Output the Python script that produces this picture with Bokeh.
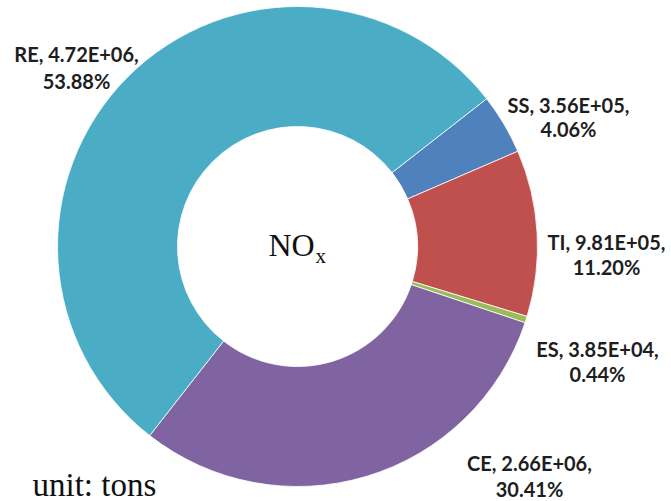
import numpy as np
from bokeh.plotting import figure
from bokeh.models import Range1d, ColumnDataSource
from bokeh.core.properties import value
from bokeh.embed import file_html
from bokeh.resources import INLINE

# NOx emissions by source category (tons), clockwise order
categories = ["SS", "TI", "ES", "CE", "RE"]
emissions = [3.56e5, 9.81e5, 3.85e4, 2.66e6, 4.72e6]
shares = [4.06, 11.20, 0.44, 30.41, 53.88]
colors = ["#4F81BD", "#C0504D", "#9BBB59", "#8064A2", "#4BACC6"]

W, H = 671, 501

# donut geometry in pixel-like data units (y measured upward)
cx, cy = 297, H - 246
r_outer, r_inner = 240, 120
first_slice_deg = 52  # clockwise from 12 o'clock

# label anchors: (center x, top line y, bottom line y) measured from the top
label_pos = {
    "SS": (568, 104, 128),
    "TI": (606, 241, 266),
    "ES": (597, 348, 373),
    "CE": (529, 462, 488),
    "RE": (76, 53, 80),
}

frac = np.array(shares) / np.sum(shares)
cum = np.concatenate([[0.0], np.cumsum(frac)]) * 360.0 + first_slice_deg
start = 90.0 - cum[:-1]
end = 90.0 - cum[1:]

wedges = ColumnDataSource(dict(
    cat=categories, val=emissions, color=colors,
    start=np.radians(start), end=np.radians(end),
))

p = figure(width=W, height=H, output_backend="svg", toolbar_location=None,
           x_range=Range1d(0, W), y_range=Range1d(0, H),
           min_border=0, outline_line_color=None, background_fill_color="white")
p.axis.visible = False
p.grid.visible = False

p.annular_wedge(x=cx, y=cy, inner_radius=r_inner, outer_radius=r_outer,
                start_angle="start", end_angle="end", direction="clock",
                fill_color="color", line_color="white", line_width=0.8,
                source=wedges)

line1, line2, lx, ly1, ly2 = [], [], [], [], []
for c, e, s in zip(categories, emissions, shares):
    x, y1, y2 = label_pos[c]
    line1.append(f"{c}, {e:.2E},")
    line2.append(f"{s:.2f}%")
    lx.append(x)
    ly1.append(H - y1)
    ly2.append(H - y2)

lab = ColumnDataSource(dict(x=lx + lx, y=ly1 + ly2, t=line1 + line2))
p.text(x="x", y="y", text="t", source=lab, text_font=value("Lato"),
       text_font_style="bold", text_font_size="20px", text_color="#1e1e1e",
       text_align="center", text_baseline="middle")

# centre caption NOx with subscript x
p.text(x=[268], y=[H - 244], text=["NO"], text_font=value("Liberation Serif"),
       text_font_size="32px", text_color="#111111",
       text_align="left", text_baseline="middle")
p.text(x=[315], y=[H - 255], text=["x"], text_font=value("Liberation Serif"),
       text_font_size="21px", text_color="#111111",
       text_align="left", text_baseline="middle")

p.text(x=[32], y=[H - 484], text=["unit: tons"], text_font=value("Liberation Serif"),
       text_font_size="33px", text_color="#111111",
       text_align="left", text_baseline="middle")

open("out.html", "w").write(file_html(p, INLINE))
